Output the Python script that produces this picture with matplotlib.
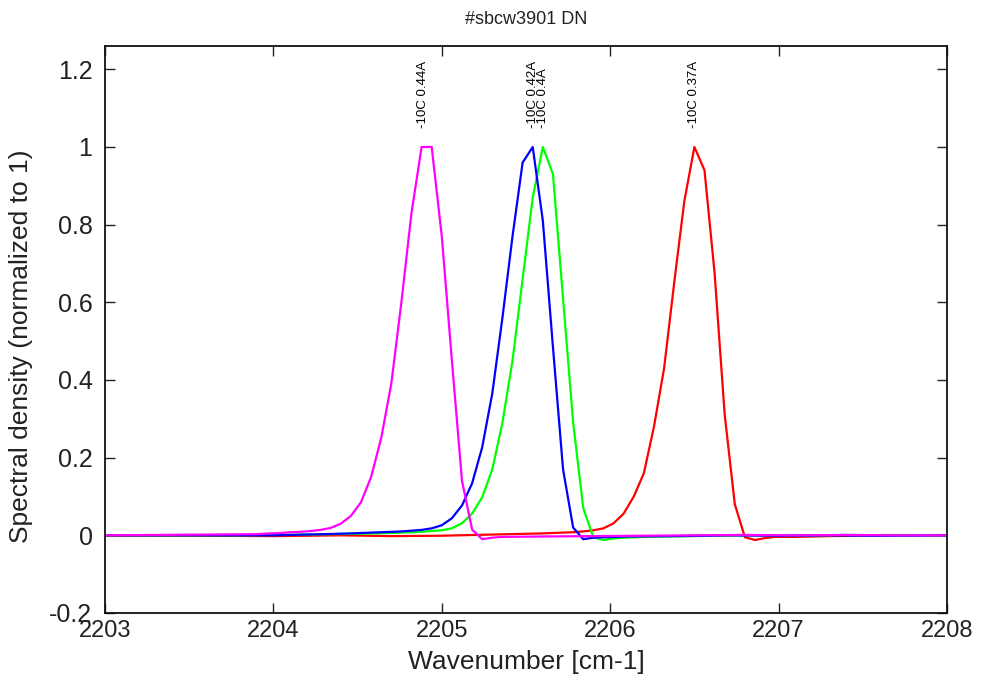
import matplotlib
matplotlib.use("Agg")
import matplotlib.pyplot as plt

plt.rcParams['font.family'] = ['Liberation Sans', 'DejaVu Sans']

title = "#sbcw3901 DN"
xlabel = "Wavenumber [cm-1]"
ylabel = "Spectral density (normalized to 1)"

# magenta series (-10C 0.44A)
mag_x = [2203.0, 2203.3, 2203.6, 2203.9, 2203.98, 2204.04, 2204.10, 2204.16, 2204.22,
         2204.28, 2204.34, 2204.40, 2204.46, 2204.52, 2204.58, 2204.64, 2204.70,
         2204.76, 2204.82, 2204.88, 2204.94, 2205.00, 2205.06, 2205.12, 2205.18,
         2205.24, 2205.30, 2205.36, 2205.6, 2205.9, 2206.2, 2206.5, 2206.8, 2207.1,
         2207.4, 2207.7, 2208.0]
mag_y = [0.0, 0.001, 0.002, 0.003, 0.005, 0.006, 0.008, 0.009, 0.011,
         0.014, 0.019, 0.03, 0.05, 0.085, 0.15, 0.25, 0.39,
         0.6, 0.83, 1.0, 1.0, 0.77, 0.45, 0.14, 0.015,
         -0.01, -0.006, -0.004, -0.003, -0.002, -0.001, 0.0, 0.001, 0.0,
         0.001, 0.0, 0.0]

# blue series (-10C 0.42A)
blu_x = [2203.0, 2203.5, 2204.0, 2204.3, 2204.46, 2204.52, 2204.58, 2204.64, 2204.70,
         2204.76, 2204.82, 2204.88, 2204.94, 2205.00, 2205.06, 2205.12, 2205.18,
         2205.24, 2205.30, 2205.36, 2205.42, 2205.48, 2205.54, 2205.60, 2205.66,
         2205.72, 2205.78, 2205.84, 2205.90, 2205.96, 2206.1, 2206.4, 2206.7,
         2207.0, 2207.3, 2207.6, 2208.0]
blu_y = [0.0, 0.0, 0.0, 0.003, 0.005, 0.006, 0.007, 0.008, 0.009,
         0.01, 0.012, 0.014, 0.018, 0.026, 0.044, 0.077, 0.134,
         0.227, 0.366, 0.56, 0.77, 0.96, 1.0, 0.81, 0.485,
         0.17, 0.02, -0.01, -0.006, -0.005, -0.003, -0.002, 0.0,
         -0.001, 0.0, -0.001, 0.0]

# green series (-10C 0.4A)
grn_x = [2203.0, 2203.5, 2203.8, 2204.2, 2204.5, 2204.7, 2204.82, 2204.88, 2204.94,
         2205.00, 2205.06, 2205.12, 2205.18, 2205.24, 2205.30, 2205.36, 2205.42,
         2205.48, 2205.54, 2205.60, 2205.66, 2205.72, 2205.78, 2205.84, 2205.90,
         2205.96, 2206.02, 2206.08, 2206.2, 2206.5, 2206.8, 2207.1, 2207.4,
         2207.7, 2208.0]
grn_y = [0.0, 0.0, 0.0, 0.002, 0.004, 0.006, 0.008, 0.009, 0.011,
         0.013, 0.018, 0.031, 0.056, 0.098, 0.17, 0.29, 0.45,
         0.66, 0.87, 1.0, 0.93, 0.61, 0.29, 0.07, -0.005,
         -0.012, -0.008, -0.006, -0.004, -0.002, 0.0, -0.001, 0.001,
         0.0, 0.0]

# red series (-10C 0.37A)
red_x = [2203.0, 2203.5, 2204.0, 2204.4, 2204.7, 2205.0, 2205.2, 2205.4, 2205.6,
         2205.72, 2205.78, 2205.84, 2205.90, 2205.96, 2206.02, 2206.08, 2206.14,
         2206.20, 2206.26, 2206.32, 2206.38, 2206.44, 2206.50, 2206.56, 2206.62,
         2206.68, 2206.74, 2206.80, 2206.86, 2206.92, 2206.98, 2207.1, 2207.3,
         2207.6, 2208.0]
red_y = [-0.001, -0.001, -0.002, 0.0, -0.002, -0.001, 0.001, 0.003, 0.005,
         0.007, 0.008, 0.01, 0.013, 0.018, 0.031, 0.056, 0.10,
         0.16, 0.28, 0.43, 0.65, 0.86, 1.0, 0.94, 0.675,
         0.31, 0.08, -0.005, -0.012, -0.007, -0.004, -0.004, -0.002,
         0.0, 0.0]

labels = ["-10C 0.37A", "-10C 0.4A", "-10C 0.42A", "-10C 0.44A"]
label_x = [2206.50, 2205.60, 2205.54, 2204.89]

xticks = [2203, 2204, 2205, 2206, 2207, 2208]
yticks = [-0.2, 0, 0.2, 0.4, 0.6, 0.8, 1, 1.2]
ytick_labels = ["-0.2", "0", "0.2", "0.4", "0.6", "0.8", "1", "1.2"]

fig = plt.figure(figsize=(9.84, 6.75), dpi=100)
ax = fig.add_axes([105 / 984, 62 / 675, (947 - 105) / 984, (629 - 62) / 675])

ax.plot(red_x, red_y, color='#ff0000', lw=1.6)
ax.plot(grn_x, grn_y, color='#00ff00', lw=1.6)
ax.plot(blu_x, blu_y, color='#0000ff', lw=1.6)
ax.plot(mag_x, mag_y, color='#ff00ff', lw=1.6)

for lx, lt in zip(label_x, labels):
    ax.text(lx, 1.05, lt, rotation=90, ha='center', va='bottom', fontsize=9.5)

ax.set_xlim(2203, 2208)
ax.set_ylim(-0.2, 1.26)
ax.set_xticks(xticks)
ax.set_xticklabels([str(t) for t in xticks])
ax.set_yticks(yticks)
ax.set_yticklabels(ytick_labels)
ax.tick_params(direction='in', length=7, width=1, top=True, right=True,
               labelsize=17, colors='#222222', labelcolor='#222222')
ax.tick_params(axis='x', pad=5)
ax.tick_params(axis='y', pad=9, labelsize=18)
for s in ax.spines.values():
    s.set_linewidth(1.3)
    s.set_color('#111111')

ax.set_xlabel(xlabel, fontsize=19, labelpad=6, color='#222222')
ax.set_ylabel(ylabel, fontsize=19, labelpad=12, color='#222222')
ax.yaxis.label.set_y(0.471)
ax.set_title(title, fontsize=13, pad=16, color='#222222')

fig.savefig("out.png", dpi=100)
